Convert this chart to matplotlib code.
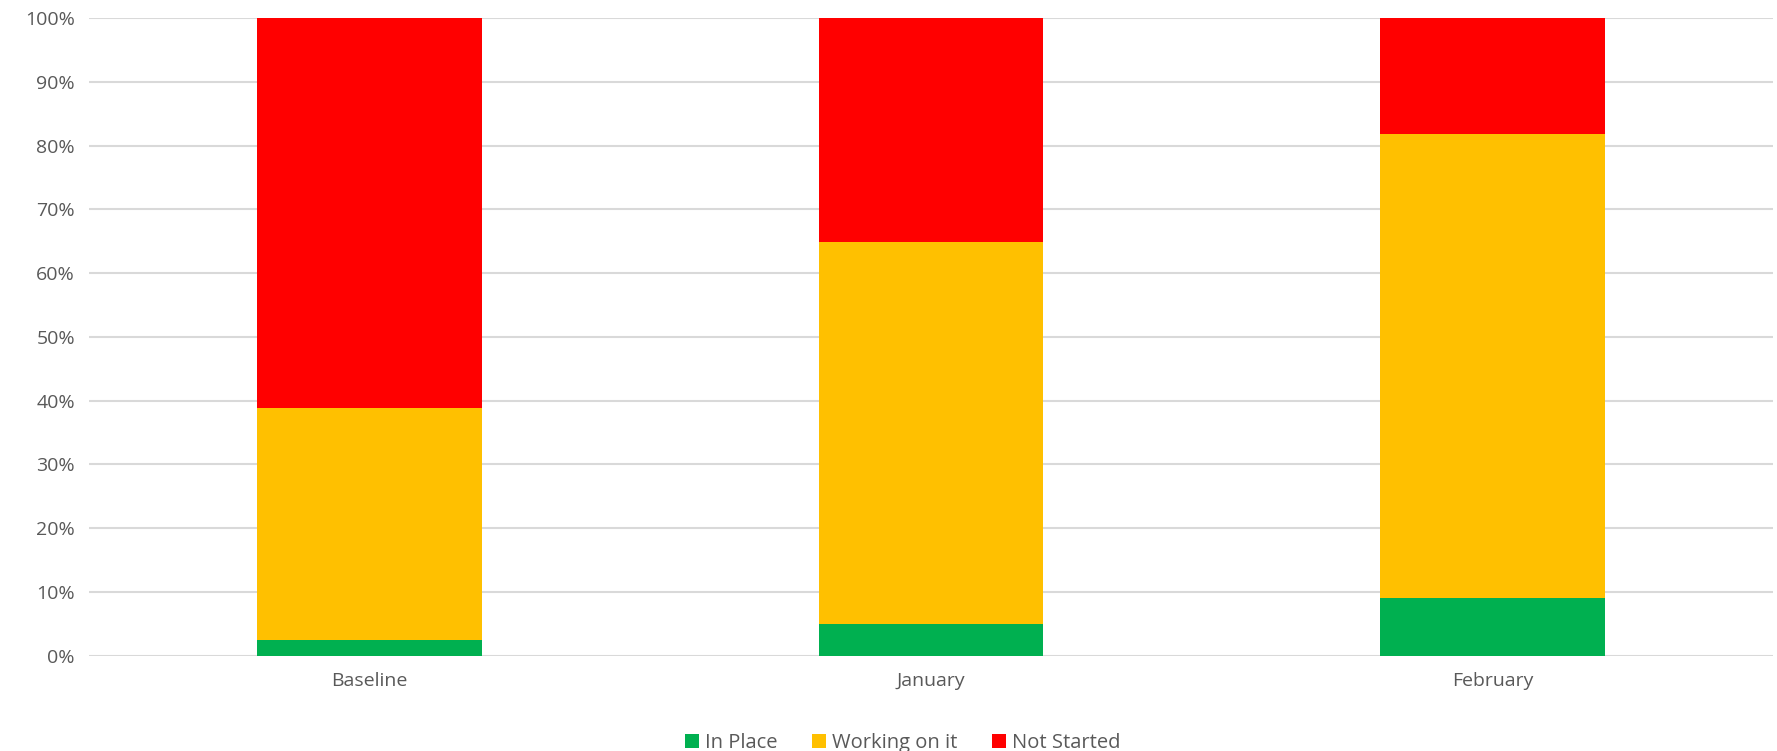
import matplotlib.pyplot as plt
import numpy as np
from matplotlib.ticker import PercentFormatter

# data (percent of total)
categories = ["Baseline", "January", "February"]
in_place = [2.5, 4.9, 9.1]
working_on_it = [36.3, 60.0, 72.7]
not_started = [61.2, 35.1, 18.2]

series_names = ["In Place", "Working on it", "Not Started"]
series_colors = ["#00B050", "#FFC000", "#FF0000"]

plt.rcParams['font.family'] = ['Open Sans', 'DejaVu Sans']

fig = plt.figure(figsize=(17.77, 7.51), dpi=100)
ax = fig.add_axes([0.050, 0.127, 0.948, 0.849])

x = np.arange(len(categories))
bottom = np.zeros(len(categories))
for name, vals, col in zip(series_names, [in_place, working_on_it, not_started], series_colors):
    ax.bar(x, vals, width=0.4, bottom=bottom, color=col, label=name, zorder=3)
    bottom += np.array(vals)

ax.set_xlim(-0.5, len(categories) - 0.5)
ax.set_ylim(0, 100)
ax.set_yticks(np.arange(0, 101, 10))
ax.yaxis.set_major_formatter(PercentFormatter(decimals=0))
ax.set_xticks(x)
ax.set_xticklabels(categories)

ax.grid(axis='y', color='#D9D9D9', linewidth=1.5, zorder=0)
for s in ax.spines.values():
    s.set_visible(False)
ax.tick_params(axis='both', length=0, labelsize=14, labelcolor='#595959')
ax.tick_params(axis='x', pad=12)
ax.tick_params(axis='y', pad=10)

leg = fig.legend(loc='center', bbox_to_anchor=(0.508, 0.011), ncol=3, frameon=False,
                 fontsize=14.5, handlelength=0.7, handleheight=0.7, handletextpad=0.3,
                 columnspacing=1.7)
for t in leg.get_texts():
    t.set_color('#595959')

fig.savefig("out.png", dpi=100)
